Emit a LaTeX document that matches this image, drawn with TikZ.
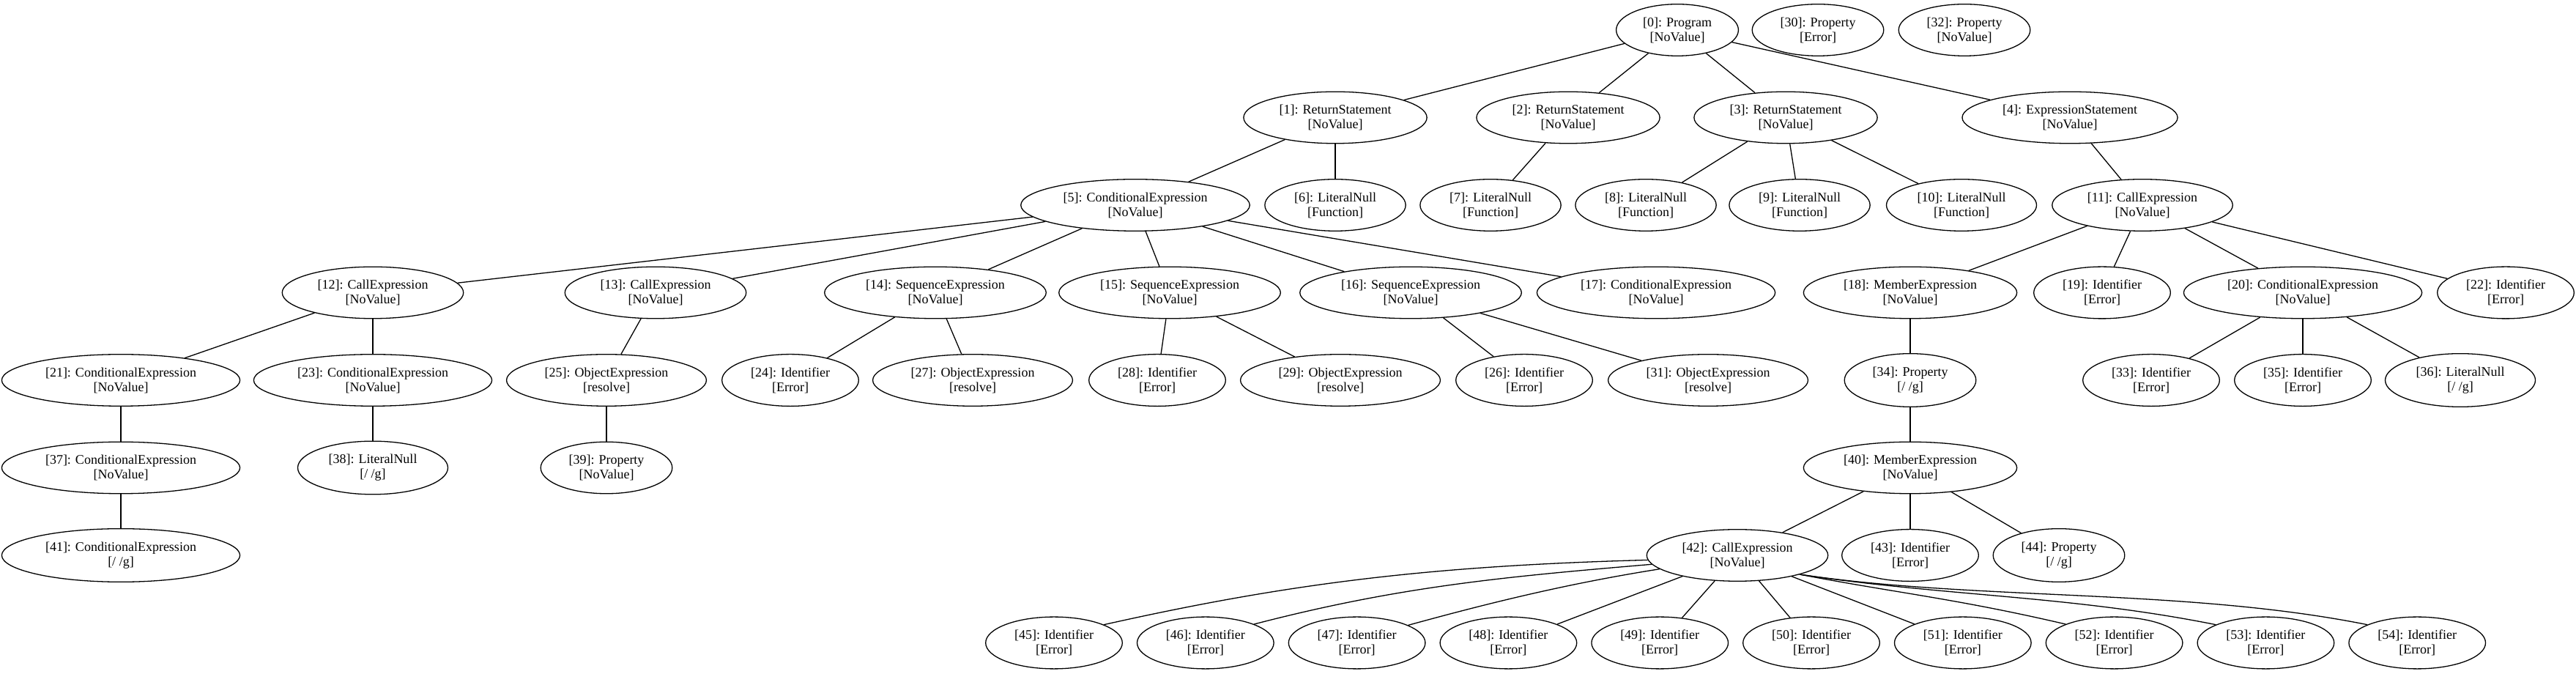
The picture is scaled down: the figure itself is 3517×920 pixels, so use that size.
\documentclass[tikz,border=0pt]{standalone}
\usepackage{fontspec}
\setmainfont{Liberation Serif}
\usepackage{tikz}
\usetikzlibrary{shapes.geometric}

\begin{document}
\begin{tikzpicture}[x=1pt, y=1pt, node distance=119.5pt,
                astnode/.style={ellipse, draw, line width=1.3pt, inner xsep=12pt, inner ysep=7.5pt, align=center, font=\fontsize{18}{20}\selectfont},
                link/.style={line width=1.3pt}
            ]
                \useasboundingbox (0,0) rectangle (3517,920);

                % Nodes: level 0
                \node[astnode] (n0) at (2290,879) {[0]: Program\\{[NoValue]}};
                \node[astnode] (n30) at (2482,879) {[30]: Property\\{[Error]}};
                \node[astnode] (n32) at (2682,879) {[32]: Property\\{[NoValue]}};

                % Nodes: level 1
                \node[astnode] (n1) at (1823,759.5) {[1]: ReturnStatement\\{[NoValue]}};
                \node[astnode] (n2) at (2141,759.5) {[2]: ReturnStatement\\{[NoValue]}};
                \node[astnode] (n3) at (2438,759.5) {[3]: ReturnStatement\\{[NoValue]}};
                \node[astnode] (n4) at (2826,759.5) {[4]: ExpressionStatement\\{[NoValue]}};

                % Nodes: level 2
                \node[astnode] (n5) at (1550,640) {[5]: ConditionalExpression\\{[NoValue]}};
                \node[astnode, below of = n1] (n6) {[6]: LiteralNull\\{[Function]}};
                \node[astnode] (n7) at (2035,640) {[7]: LiteralNull\\{[Function]}};
                \node[astnode] (n8) at (2247,640) {[8]: LiteralNull\\{[Function]}};
                \node[astnode] (n9) at (2457,640) {[9]: LiteralNull\\{[Function]}};
                \node[astnode] (n10) at (2678,640) {[10]: LiteralNull\\{[Function]}};
                \node[astnode] (n11) at (2925,640) {[11]: CallExpression\\{[NoValue]}};

                % Nodes: level 3
                \node[astnode] (n12) at (509,520.5) {[12]: CallExpression\\{[NoValue]}};
                \node[astnode] (n13) at (895,520.5) {[13]: CallExpression\\{[NoValue]}};
                \node[astnode] (n14) at (1277,520.5) {[14]: SequenceExpression\\{[NoValue]}};
                \node[astnode] (n15) at (1597,520.5) {[15]: SequenceExpression\\{[NoValue]}};
                \node[astnode] (n16) at (1926,520.5) {[16]: SequenceExpression\\{[NoValue]}};
                \node[astnode] (n17) at (2261,520.5) {[17]: ConditionalExpression\\{[NoValue]}};
                \node[astnode] (n18) at (2608,520.5) {[18]: MemberExpression\\{[NoValue]}};
                \node[astnode] (n19) at (2870,520.5) {[19]: Identifier\\{[Error]}};
                \node[astnode] (n20) at (3144,520.5) {[20]: ConditionalExpression\\{[NoValue]}};
                \node[astnode] (n22) at (3421,520.5) {[22]: Identifier\\{[Error]}};

                % Nodes: level 4
                \node[astnode] (n21) at (165,401) {[21]: ConditionalExpression\\{[NoValue]}};
                \node[astnode] (n23) at (509,401) {[23]: ConditionalExpression\\{[NoValue]}};
                \node[astnode] (n25) at (828,401) {[25]: ObjectExpression\\{[resolve]}};
                \node[astnode] (n24) at (1079,401) {[24]: Identifier\\{[Error]}};
                \node[astnode] (n27) at (1328,401) {[27]: ObjectExpression\\{[resolve]}};
                \node[astnode] (n28) at (1580,401) {[28]: Identifier\\{[Error]}};
                \node[astnode] (n29) at (1830,401) {[29]: ObjectExpression\\{[resolve]}};
                \node[astnode] (n26) at (2081,401) {[26]: Identifier\\{[Error]}};
                \node[astnode] (n31) at (2332,401) {[31]: ObjectExpression\\{[resolve]}};
                \node[astnode, below of = n18] (n34) {[34]: Property\\{[/ /g]}};
                \node[astnode] (n33) at (2937,401) {[33]: Identifier\\{[Error]}};
                \node[astnode, below of = n20] (n35) {[35]: Identifier\\{[Error]}};
                \node[astnode] (n36) at (3359,401) {[36]: LiteralNull\\{[/ /g]}};

                % Nodes: level 5
                \node[astnode, below of = n21] (n37) {[37]: ConditionalExpression\\{[NoValue]}};
                \node[astnode, below of = n23] (n38) {[38]: LiteralNull\\{[/ /g]}};
                \node[astnode, below of = n25] (n39) {[39]: Property\\{[NoValue]}};
                \node[astnode, below of = n34] (n40) {[40]: MemberExpression\\{[NoValue]}};

                % Nodes: level 6
                \node[astnode, below of = n37] (n41) {[41]: ConditionalExpression\\{[/ /g]}};
                \node[astnode] (n42) at (2372,162) {[42]: CallExpression\\{[NoValue]}};
                \node[astnode, below of = n40] (n43) {[43]: Identifier\\{[Error]}};
                \node[astnode] (n44) at (2811,162) {[44]: Property\\{[/ /g]}};

                % Nodes: level 7 (arguments of [42])
                \foreach \i in {45,...,54} {
                    \node[astnode] (n\i) at ({1439+206.8*(\i-45)},42.5) {[\i]: Identifier\\{[Error]}};
                }

                % Paths: Program body
                \draw[link] (n0) -- (n1);
                \draw[link] (n0) -- (n2);
                \draw[link] (n0) -- (n3);
                \draw[link] (n0) -- (n4);

                % Paths: statements
                \draw[link] (n1) -- (n5);
                \draw[link] (n1) -- (n6);
                \draw[link] (n2) -- (n7);
                \draw[link] (n3) -- (n8);
                \draw[link] (n3) -- (n9);
                \draw[link] (n3) -- (n10);
                \draw[link] (n4) -- (n11);

                % Paths: expressions
                \draw[link] (n5) -- (n12);
                \draw[link] (n5) -- (n13);
                \draw[link] (n5) -- (n14);
                \draw[link] (n5) -- (n15);
                \draw[link] (n5) -- (n16);
                \draw[link] (n5) -- (n17);
                \draw[link] (n11) -- (n18);
                \draw[link] (n11) -- (n19);
                \draw[link] (n11) -- (n20);
                \draw[link] (n11) -- (n22);

                \draw[link] (n12) -- (n21);
                \draw[link] (n12) -- (n23);
                \draw[link] (n13) -- (n25);
                \draw[link] (n14) -- (n24);
                \draw[link] (n14) -- (n27);
                \draw[link] (n15) -- (n28);
                \draw[link] (n15) -- (n29);
                \draw[link] (n16) -- (n26);
                \draw[link] (n16) -- (n31);
                \draw[link] (n18) -- (n34);
                \draw[link] (n20) -- (n33);
                \draw[link] (n20) -- (n35);
                \draw[link] (n20) -- (n36);

                \draw[link] (n21) -- (n37);
                \draw[link] (n23) -- (n38);
                \draw[link] (n25) -- (n39);
                \draw[link] (n34) -- (n40);
                \draw[link] (n37) -- (n41);

                \draw[link] (n40) -- (n42);
                \draw[link] (n40) -- (n43);
                \draw[link] (n40) -- (n44);

                % Paths: call arguments
                \draw[link] (n42.183) .. controls +(-300,-8) and +(250,56) .. (n45.20);
                \draw[link] (n42.186) .. controls +(-200,-17) and +(200,52) .. (n46.21);
                \draw[link] (n42.190) .. controls +(-120,-19) and +(120,33) .. (n47.19);
                \foreach \i in {48,...,51} {
                    \draw[link] (n42) -- (n\i);
                }
                \draw[link] (n42.-17) .. controls +(130,-25) and +(-150,35) .. (n52.159);
                \draw[link] (n42.-17) .. controls +(200,-30) and +(-200,40) .. (n53.160);
                \draw[link] (n42.-17) .. controls +(242,-36) and +(-250,50) .. (n54.160);
            \end{tikzpicture}
\end{document}
